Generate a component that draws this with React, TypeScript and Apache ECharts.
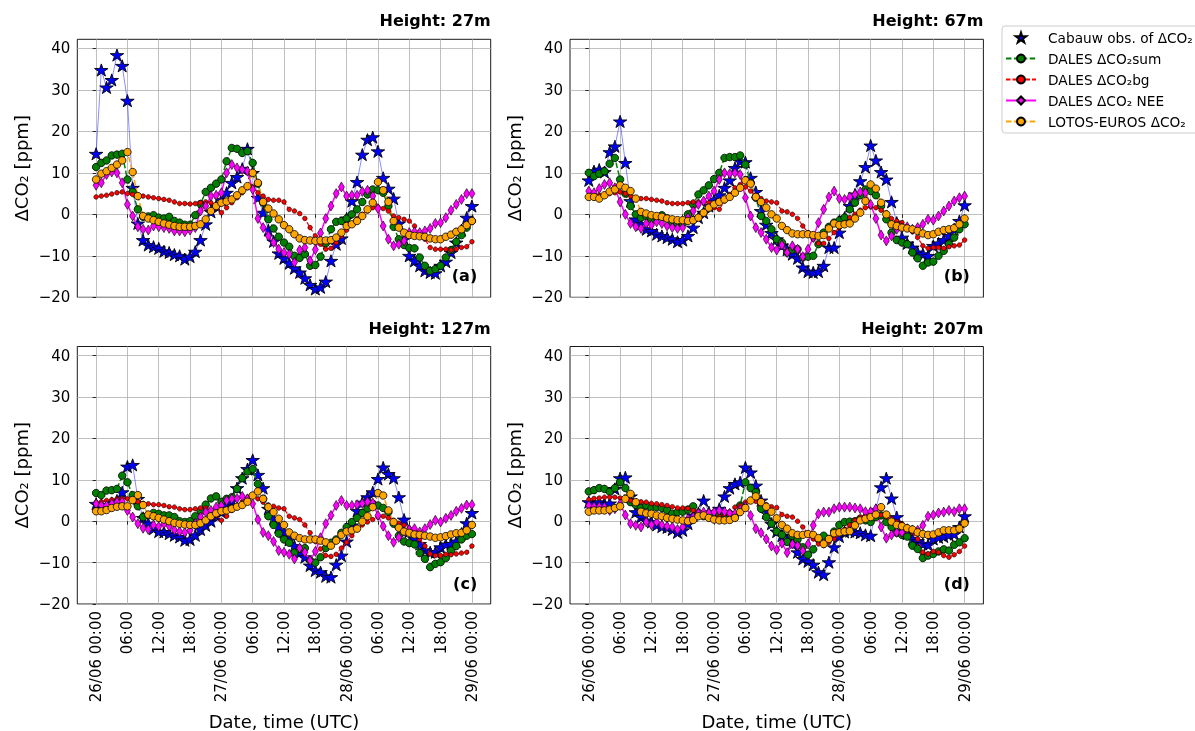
import React, { useEffect, useRef } from 'react';
import * as echarts from 'echarts';

// time steps: hours since 26/06 00:00 UTC
const HOURS = Array.from({ length: 73 }, (_, i) => i);
const X_TICKS = [0, 6, 12, 18, 24, 30, 36, 42, 48, 54, 60, 66, 72];
const Y_TICKS = [-20, -10, 0, 10, 20, 30, 40];

const N_OBS = 'Cabauw obs. of ΔCO₂';
const N_SUM = 'DALES ΔCO₂sum';
const N_BG = 'DALES ΔCO₂bg';
const N_NEE = 'DALES ΔCO₂ NEE';
const N_LOTOS = 'LOTOS-EUROS ΔCO₂';

const TITLES = ['Height: 27m', 'Height: 67m', 'Height: 127m', 'Height: 207m'];
const TAGS = ['(a)', '(b)', '(c)', '(d)'];

// ---- 27 m ----
const OBS_27 = [14.6, 34.8, 30.6, 32.4, 38.4, 35.8, 27.4, 6.4, -2.2, -6.2,
  -7.4, -7.8, -8.2, -8.9, -9.2, -9.7, -10, -10.8, -10.2, -9,
  -6.2, -2.4, 0.6, 2, 3.5, 5.2, 7.6, 9, 11, 15.8,
  10, 4, 0.4, -3.8, -6.5, -9.4, -10.6, -11.8, -13, -14,
  -15.4, -17, -18, -17.6, -16.2, -11.2, -7.2, -5.8, -1, 3.2,
  7.8, 14.4, 18, 18.6, 15.2, 8.8, 6.2, 3.8, -2.2, -6,
  -10, -11.2, -12.4, -13.6, -14, -14.2, -12.4, -11.4, -9.2, -6.8,
  -3.8, -0.8, 2];
const SUM_27 = [11.4, 12.4, 13, 14.2, 14.4, 14.6, 8.4, 5.4, 1.2, -0.6,
  -0.5, -0.2, -0.8, -1, -0.6, -1.6, -2, -2.5, -2.5, -0.2,
  2.5, 5.4, 6.4, 7.4, 8.4, 12.8, 16, 15.8, 14.8, 15.2,
  12.4, 7.4, 2.8, -1.2, -3.4, -5.4, -6.8, -7.8, -10, -10.5,
  -9.6, -12.4, -12.2, -10.2, -7, -3.6, -1.8, -1.6, -1, 0,
  1.2, 3, 4.8, 6, 5.8, 5.2, 2, -3, -6, -7.4,
  -8.1, -8.2, -10.4, -12.4, -13.6, -13.2, -12.4, -10.4, -8.6, -6.6,
  -5, -3.2, -1.6];
const BG_27 = [4.2, 4.4, 4.6, 4.9, 5.2, 5.4, 5, 4.8, 4.6, 4.4,
  4.2, 4, 3.8, 3.6, 3.4, 3, 2.6, 2.6, 2.5, 2.6,
  2.8, 3, 2.8, 1.6, 0.4, 1.6, 2.8, 4, 5.2, 6.4,
  6.6, 5.2, 4.4, 3.6, 3.4, 3.4, 3, 1.2, 0.8, 0.2,
  -1, -3.2, -5.2, -7.2, -8.4, -8.2, -6.8, -5.2, -3.8, -2.4,
  -1, 0, 0.8, 1.6, 1.8, 1.4, 0.8, -0.4, -0.8, -1.2,
  -1.6, -2.8, -4.4, -6, -8, -8.4, -8.4, -8.4, -8.6, -8.4,
  -8, -7.8, -6.6];
const NEE_27 = [7, 7.6, 9.6, 10.2, 10, 7.6, 2.4, -0.4, -3, -3.6,
  -3.8, -2.8, -3, -3.2, -3.4, -4, -4, -4.2, -3.8, -3.2,
  0.8, 2, 4.4, 4.6, 5.2, 10, 12, 11.2, 10.8, 10.4,
  6, -1, -3.2, -5.2, -6.8, -8.4, -9.2, -9.6, -11.6, -8.6,
  -8, -11.2, -8.5, -4.5, -1, 2, 5, 6.6, 4.4, 4.6,
  4.6, 5.5, 5.8, 4.4, 1.4, -2.8, -6, -7.6, -7.2, -6.4,
  -4.4, -4.2, -4.4, -4, -3.4, -2.2, -2, -0.8, 1, 2.4,
  3.6, 5, 5];
const LOTOS_27 = [8.4, 9.8, 10.4, 11.2, 12, 13, 15, 10.2, 4.4, -0.4,
  -1, -1.4, -1.8, -2.2, -2.5, -2.8, -3, -3, -3, -2.8,
  -2.4, -1.2, 0.8, 2, 2.8, 3.1, 3.6, 4.6, 5.8, 6.8,
  10, 7.6, 3, 1.4, 0.2, -1.2, -2.6, -3.6, -4.8, -5.8,
  -6.2, -6.3, -6.4, -6.3, -6.3, -6.2, -5.6, -4.4, -2.8, -2.4,
  -1.6, -0.4, 1.2, 2.8, 7.8, 5.8, 3, -1.6, -3.2, -4.4,
  -5, -5.2, -5.3, -5.4, -5.8, -6, -6, -5.4, -4.9, -4.2,
  -3.6, -2.6, -1.6];

// ---- 67 m ----
const OBS_67 = [8.2, 10.4, 10.8, 10.2, 15, 16.4, 22.4, 12.4, 3.2, -1.2,
  -2.4, -3.6, -4, -4.8, -5.2, -5.6, -6, -6.6, -6.2, -5.2,
  -3.2, -0.8, 0.4, 2, 3.5, 4.6, 6.4, 8.2, 11.2, 12.8,
  12.6, 8.8, 5.4, 0.8, -2.5, -4.5, -6, -7.5, -8.5, -9.6,
  -10.6, -12.8, -13.8, -14, -13.8, -12.4, -8, -8, -4.4, -0.8,
  2, 4.8, 8, 11.4, 16.6, 13, 10.2, 8.4, 3, -2,
  -5.6, -7, -8, -9.2, -9.6, -10, -7.6, -7, -6.2, -5.2,
  -3.6, -1.6, 2.2];
const SUM_67 = [10, 9.2, 9.8, 10.4, 12.2, 13.6, 8.4, 5, 2, 0,
  -0.8, -0.4, -1.2, -0.8, -0.2, -1, -2, -2.2, -2.2, 0,
  2.4, 4.8, 5.8, 7, 8.5, 10, 13.6, 13.8, 13.8, 14.2,
  12, 7.6, 4, -0.4, -1.6, -3.6, -6, -6.8, -9.2, -8.5,
  -8.4, -10.4, -10.2, -10, -7.2, -4.4, -3, -2, -1.5, -0.8,
  1.2, 2.8, 4.6, 6, 5.6, 4.6, 2, -1.2, -4.4, -6.2,
  -6.8, -7.2, -9.2, -10.6, -12.4, -11.6, -11.4, -10, -8.8, -7.2,
  -5.6, -3.6, -2.4];
const BG_67 = [4.2, 4.4, 4.6, 4.8, 5, 5.2, 5.4, 5, 4.4, 4,
  3.8, 3.8, 3.6, 3.4, 3.2, 2.8, 2.6, 2.6, 2.6, 2.8,
  3, 3, 3, 2.8, 1.6, 1.2, 3.2, 4.8, 6.4, 7.2,
  6.6, 5.6, 4.6, 3.8, 3.2, 3, 2.8, 0.8, 0.6, 0,
  -1, -2.8, -4.4, -6, -7, -7, -5.8, -4.4, -3.2, -2,
  -0.8, 0, 1, 1.6, 1.8, 1.6, 1, 0.4, -1, -1.6,
  -2, -3.2, -4.2, -5.6, -7.6, -8.2, -8, -8, -8.2, -7.8,
  -7.6, -7.4, -6.2];
const NEE_67 = [5.6, 5.2, 6.2, 7.2, 7.6, 6.4, 3, 0, -2.2, -3,
  -3.4, -2.2, -2.6, -1.8, -2.2, -2.8, -3.2, -3.4, -3.2, -0.8,
  0.8, 2.4, 3.2, 4.4, 5.6, 8.4, 10, 9.8, 10, 9.6,
  4, -0.4, -3.2, -4.4, -6, -8, -8.6, -7.4, -9.2, -7.6,
  -8.4, -10.2, -8.4, -5.6, -2, 1.2, 4.2, 5.6, 3.8, 3.6,
  4.2, 4.8, 5.4, 5.2, 2.4, -1, -5, -6.4, -5.2, -3.6,
  -3.2, -3, -3.6, -3.2, -2.4, -1.2, -1.4, -0.4, 0.8, 2,
  3.2, 4, 4.4];
const LOTOS_67 = [4.2, 4.2, 3.8, 4.6, 5.5, 6, 7, 6.4, 5.6, 3.8,
  0.6, 0.2, -0.2, -0.4, -0.6, -1, -1.2, -1.4, -1.4, -1.6,
  -1.4, -0.8, 0.4, 1.6, 2.4, 3, 3.6, 4.2, 5.2, 6.4,
  8.2, 7.4, 4.2, 3, 1.6, 0, -1, -2.8, -3.8, -4.6,
  -4.8, -4.8, -4.8, -5, -5.2, -5, -3.4, -2.2, -2.6, -2.4,
  -2.2, -1, 0.4, 3.2, 7.2, 6.2, 2.8, 0, -2.4, -2.8,
  -3.2, -3.4, -3.6, -4, -4.6, -5, -4.8, -4.2, -3.8, -3.6,
  -3.3, -2.4, -1];

// ---- 127 m ----
const OBS_127 = [4.2, 3.9, 3.9, 4.4, 5, 7, 13.2, 13.6, 5.4, 0.8,
  -0.6, -1.8, -2.5, -2.6, -3, -3.4, -3.8, -4.6, -4.4, -3.4,
  -2, -1, 0, 1.4, 2.2, 3.8, 5, 8, 10.4, 12.6,
  14.8, 11.2, 8, 3, 0.6, -1.4, -2.6, -4.5, -6, -7.6,
  -8.7, -10.7, -11.9, -12.3, -13.3, -13.5, -10.5, -8.3, -4.9, -1,
  2.5, 4.5, 5.8, 7, 10.2, 13, 11.4, 10.4, 5.8, 0.4,
  -2.5, -4.3, -5.5, -7, -7.5, -7.5, -6.3, -5.6, -5.5, -4.9,
  -3, -0.5, 2];
const SUM_127 = [6.8, 6.3, 7.4, 7.5, 7.8, 11, 9.4, 6.3, 3.6, 1,
  1.5, 2, 1.8, 1.4, 1.4, 1, 0, -0.2, 0, 1.2,
  2.6, 4, 5.5, 6, 4.7, 5.4, 5.8, 7.8, 10.4, 12,
  12.6, 9, 5.4, 1.2, -0.9, -3, -4.4, -5.2, -7.6, -6.7,
  -6.5, -9.5, -10, -8.7, -6.5, -5.2, -4.4, -2.8, -1.4, -0.2,
  0.8, 2, 3.1, 4.2, 3.8, 3.2, 2.2, -0.6, -3.5, -4.9,
  -5.3, -5.6, -7.7, -9.1, -11.1, -10.3, -9.9, -8.9, -7.1, -6,
  -4.4, -3.5, -3.1];
const BG_127 = [4.6, 4.7, 5, 5.2, 5.4, 5.5, 5.4, 5.2, 4.7, 4.3,
  4.2, 4, 4, 3.8, 3.5, 3.4, 3, 2.8, 2.8, 3,
  3.2, 3.2, 2.7, 1.4, 0.2, 1.2, 2.6, 3.8, 4.7, 5.8,
  6.2, 5.4, 4.6, 3.9, 3.6, 3.2, 3, 1.2, 0.8, 0.4,
  -0.9, -2.8, -4.9, -6.7, -8.3, -8.5, -8, -6.5, -5.1, -3.5,
  -2, -0.9, -0.2, 0.4, 1, 1.2, 0.8, 0.2, -0.5, -1,
  -1.7, -2.7, -4.3, -6, -7.9, -8.3, -8.3, -8, -8.1, -7.9,
  -7.7, -7.5, -6];
const NEE_127 = [4.2, 3.8, 3.8, 4.2, 4.6, 4.7, 2.6, 1, -0.6, -1.7,
  -2, -0.9, -1.3, -0.6, -1.2, -2.1, -2.5, -2.7, -2.2, -0.5,
  1, 2.2, 2.6, 3.4, 3.8, 5, 5.4, 5.5, 6, 5.4,
  4.2, 0.4, -2.7, -3.5, -4.9, -7.1, -7.5, -8, -9.1, -6.5,
  -7.5, -9.5, -7.3, -4, -0.6, 1.4, 3.8, 5, 3.8, 3.8,
  4, 4.3, 4.7, 4.4, 1.4, -1.2, -3.5, -5.1, -3.9, -2.5,
  -2, -1.8, -2.6, -1.8, -0.8, 0.2, -0.2, 0.7, 1.4, 2.4,
  3.1, 3.9, 4];
const LOTOS_127 = [2.4, 2.4, 2.7, 3.2, 3.5, 3.6, 3.6, 5.1, 6.3, 3.9,
  1.6, 1.2, 0.8, 0.4, 0, -0.4, -0.6, -0.8, -0.9, -0.9,
  -0.5, 0.2, 1.2, 1.9, 2.4, 2.6, 3, 3.5, 3.9, 4.7,
  6.2, 7.2, 5.4, 3.4, 2.2, 0.6, -0.9, -2.7, -3.5, -4.1,
  -4.4, -4.4, -4.4, -4.7, -5.1, -5.9, -4.7, -3.3, -2.5, -2.2,
  -1.8, -0.1, 1.2, 3.4, 6.8, 6.2, 2.6, -0.2, -1.6, -2.5,
  -2.8, -3.2, -3.3, -3.5, -3.7, -4, -3.9, -3.6, -3.2, -2.9,
  -2.8, -2.2, -0.9];

// ---- 207 m ----
const OBS_207 = [4.6, 4.2, 4.6, 4.2, 4.3, 7.8, 10.4, 10.6, 6, 2.2,
  1, 0.2, -0.2, -0.9, -1.3, -1.5, -2, -2.7, -2.2, -0.6,
  1.4, 2, 5, 2.2, 2, 3, 6, 8, 9, 9.4,
  13, 11.8, 8.6, 5, 2, -0.6, -2.5, -3.5, -4.5, -5.5,
  -7.5, -9.1, -9.7, -10.5, -12.3, -12.9, -9.9, -6.3, -3.7, -2.6,
  -2.4, -2.6, -2.8, -3.3, -3.5, 2.7, 8.2, 10.4, 5.5, 1,
  -1.4, -3, -4.3, -4.8, -5.5, -5.7, -4.3, -3.9, -3.7, -3.3,
  -3.1, -1.4, 1.2];
const SUM_207 = [7.2, 7.5, 8, 7.8, 7.1, 8, 9.4, 8, 4.6, 3.9,
  3.2, 3.8, 3.2, 3.4, 3.2, 2.7, 1.8, 2.2, 2.3, 2.8,
  3.6, 2, 1.2, 1.4, 1.8, 1.5, 1.8, 1.8, 1.4, 3.8,
  9.4, 8, 7, 3, 1, -0.6, -2.5, -3.3, -5, -3.5,
  -4.4, -6.3, -8.1, -6.8, -4.3, -3.5, -4.3, -2.5, -0.9, -0.2,
  -0.1, 0, 0.6, 0.2, -0.2, 1, 1.4, -0.2, -1.4, -2.8,
  -3.3, -3.7, -5.9, -6.7, -8.9, -8.3, -7.9, -7.3, -6.8, -7.1,
  -5.7, -5.1, -4.1];
const BG_207 = [5.2, 5.5, 5.6, 5.8, 5.8, 5.8, 5.6, 5.4, 5, 4.8,
  4.7, 4.6, 4.3, 4.2, 4, 3.8, 3.5, 3.2, 3.2, 3.1,
  2.6, 2.2, 1.8, 1, 0.8, 1.1, 1.6, 2.3, 3.4, 3.8,
  4.6, 5, 4.8, 4.4, 4, 3.5, 3.3, 1.6, 1.2, 1,
  0, -1.4, -3.1, -4.3, -5.5, -5.9, -5.1, -4.3, -3.1, -2,
  -0.9, 0.2, 1, 1.4, 1.6, 1.8, 1.5, 1, 0.6, -0.1,
  -0.6, -1.4, -2.8, -4.3, -7.5, -7.9, -7.3, -7.5, -8.3, -8.7,
  -8.1, -7.3, -6];
const NEE_207 = [3.8, 3.5, 3.5, 3.4, 2.6, 3, 4.2, 1.5, -0.6, -1,
  -1.4, -0.2, -0.9, -0.2, -0.9, -1.2, -1.4, -2, -1.4, 0.6,
  1, 1.9, 2.2, 2, 2.2, 2.6, 2.3, 1.9, 1.8, 2.8,
  3.6, 1.4, -1.8, -2.8, -4.3, -6, -6.9, -5.3, -7.6, -5.5,
  -5.9, -7.1, -5.5, -1, 1.8, 2.2, 2.2, 3, 3.4, 3.4,
  3.4, 3.2, 3, 2.3, 2.3, 3, -1.4, -4.1, -3.3, -2.7,
  -2.7, -1.8, -2.1, -2.2, -1, 1.2, 1.5, 2, 2.2, 2.6,
  2.3, 3, 3];
const LOTOS_207 = [2.3, 2.6, 2.6, 2.6, 2.8, 3.2, 3.6, 5.4, 6.6, 4.6,
  2.3, 1.9, 1.8, 1.4, 1.2, 0.8, 0.6, 0.4, 0.2, 0,
  0.3, 1.2, 1.4, 0.8, 0.4, 0.2, 0.2, 0.3, 0.8, 2.2,
  3.2, 5, 6, 4.6, 3.5, 2.3, 0.7, -0.9, -1.8, -2.9,
  -3.3, -3.3, -3.1, -3.3, -4.1, -5.5, -4.3, -2.9, -2.7, -2.5,
  -2.4, -1, 0.2, 0.6, 1, 1.6, 3.4, 1.6, -0.1, -0.9,
  -1.2, -1.7, -2, -2.7, -3.1, -3.3, -3.2, -2.7, -2.2, -2.2,
  -2.2, -1.8, -0.5];

const PANELS = [
  { obs: OBS_27, sum: SUM_27, bg: BG_27, nee: NEE_27, lotos: LOTOS_27 },
  { obs: OBS_67, sum: SUM_67, bg: BG_67, nee: NEE_67, lotos: LOTOS_67 },
  { obs: OBS_127, sum: SUM_127, bg: BG_127, nee: NEE_127, lotos: LOTOS_127 },
  { obs: OBS_207, sum: SUM_207, bg: BG_207, nee: NEE_207, lotos: LOTOS_207 },
];

const FONT = 'DejaVu Sans';
const STAR = 'path://M100 0 L122.45 69.1 L195.1 69.1 L136.3 111.8 L158.8 180.9 L100 138.2 L41.2 180.9 L63.7 111.8 L4.9 69.1 L77.55 69.1 Z';
const THIN_DIAMOND = 'path://M50 0 L82 100 L50 200 L18 100 Z';

const GRIDS = [
  { left: 77.3, top: 39.3, width: 413.4, height: 258 },
  { left: 570, top: 39.3, width: 413.4, height: 258 },
  { left: 77.3, top: 346.5, width: 413.4, height: 258.8 },
  { left: 570, top: 346.5, width: 413.4, height: 258.8 },
];

const pts = (vals: number[]) => HOURS.map((h, i) => [h, vals[i]]);

const xFmt = (v: number) => {
  if (v % 24 === 0) return `${26 + v / 24}/06 00:00`;
  const hh = v % 24;
  return `${hh < 10 ? '0' + hh : hh}:00`;
};
const yFmt = (v: number) => (v < 0 ? '\u2212' + Math.abs(v) : String(v));

export default function App() {
  const ref = useRef<HTMLDivElement>(null);
  useEffect(() => {
    if (!ref.current) return;
    const chart = echarts.init(ref.current, undefined, { renderer: 'svg' });
    const tickLine = { color: '#000', width: 0.8 };
    const split = { show: true, lineStyle: { color: '#b0b0b0', width: 0.8 } };

    const xAxis = GRIDS.map((_, i) => ({
      type: 'value', gridIndex: i, min: -3.6, max: 75.6,
      axisLine: { show: false },
      axisTick: { show: true, length: 3.5, customValues: X_TICKS, lineStyle: tickLine },
      axisLabel: {
        show: i >= 2, customValues: X_TICKS, rotate: 90, margin: 7, formatter: xFmt,
        fontSize: 15, color: '#000', fontFamily: FONT,
      },
      splitLine: split,
      name: i >= 2 ? 'Date, time (UTC)' : '',
      nameLocation: 'middle', nameGap: 108,
      nameTextStyle: { fontSize: 18, color: '#000', fontFamily: FONT },
    }));
    const yAxis = GRIDS.map((_, i) => ({
      type: 'value', gridIndex: i, min: -20, max: 42.2,
      axisLine: { show: false },
      axisTick: { show: true, length: 3.5, customValues: Y_TICKS, lineStyle: tickLine },
      axisLabel: { customValues: Y_TICKS, margin: 7, formatter: yFmt, fontSize: 15, color: '#000', fontFamily: FONT },
      splitLine: split,
      name: 'ΔCO₂ [ppm]', nameLocation: 'middle', nameGap: 47,
      nameTextStyle: { fontSize: 18, color: '#000', fontFamily: FONT },
    }));

    const series: any[] = [];
    PANELS.forEach((p, i) => {
      const ax = { xAxisIndex: i, yAxisIndex: i };
      series.push({
        type: 'line', name: 'obs-line', ...ax, data: pts(p.obs), symbol: 'none', silent: true,
        lineStyle: { color: 'rgba(0,0,255,0.45)', width: 1 },
      });
      series.push({
        type: 'scatter', name: N_OBS, ...ax, data: pts(p.obs), symbol: STAR, symbolKeepAspect: true,
        symbolSize: [13.5, 12.8], itemStyle: { color: '#0000ff', borderColor: '#000', borderWidth: 0.9, opacity: 1 },
      });
      series.push({
        type: 'line', name: N_SUM, ...ax, data: pts(p.sum), symbol: 'circle', symbolSize: 7.5,
        lineStyle: { color: '#008000', width: 1.5, type: [5.5, 2.4] },
        itemStyle: { color: '#008000', borderColor: '#000', borderWidth: 0.8 },
      });
      series.push({
        type: 'line', name: N_BG, ...ax, data: pts(p.bg), symbol: 'circle', symbolSize: 4.6,
        lineStyle: { color: '#ff0000', width: 1.2, type: [4.5, 2] },
        itemStyle: { color: '#ff0000', borderColor: '#000', borderWidth: 0.6 },
      });
      series.push({
        type: 'line', name: N_NEE, ...ax, data: pts(p.nee), symbol: THIN_DIAMOND, symbolSize: [6, 10],
        lineStyle: { color: '#ff00ff', width: 1.5 },
        itemStyle: { color: '#ff00ff', borderColor: '#000', borderWidth: 0.6 },
      });
      series.push({
        type: 'line', name: N_LOTOS, ...ax, data: pts(p.lotos), symbol: 'circle', symbolSize: 7.5,
        lineStyle: { color: '#ffa500', width: 1.5, type: [5.5, 2.4] },
        itemStyle: { color: '#ffa500', borderColor: '#000', borderWidth: 0.8 },
      });
    });

    const graphic: any[] = [];
    GRIDS.forEach((g, i) => {
      graphic.push({
        type: 'text', x: g.left + g.width, y: g.top - 18.5,
        style: { text: TITLES[i], align: 'right', verticalAlign: 'middle', fontSize: 16, fontWeight: 'bold', fontFamily: FONT, fill: '#000' },
      });
      graphic.push({
        type: 'text', x: g.left + g.width - 13.5, y: g.top + g.height - 21.5, z: 100,
        style: { text: TAGS[i], align: 'right', verticalAlign: 'middle', fontSize: 16, fontWeight: 'bold', fontFamily: FONT, fill: '#000' },
      });
    });

    chart.setOption({
      animation: false,
      textStyle: { fontFamily: FONT },
      grid: GRIDS.map((g) => ({ ...g, show: true, borderColor: '#000', borderWidth: 0.9, backgroundColor: 'transparent' })),
      xAxis, yAxis, series, graphic,
      legend: {
        data: [{ name: N_OBS, icon: STAR }, N_SUM, N_BG, N_NEE, N_LOTOS],
        orient: 'vertical', left: 1002, top: 26,
        padding: [4, 6, 4, 3], itemGap: 6, itemWidth: 30, itemHeight: 10,
        backgroundColor: '#fff', borderColor: '#cccccc', borderWidth: 1, borderRadius: 3,
        textStyle: { fontSize: 13.7, color: '#000', fontFamily: FONT, lineHeight: 15, padding: [0, 0, 0, 7] },
        selectedMode: false,
      },
    });
    return () => chart.dispose();
  }, []);
  return <div ref={ref} style={{ position: 'fixed', left: 0, top: 0, width: 1195, height: 731 }} />;
}
